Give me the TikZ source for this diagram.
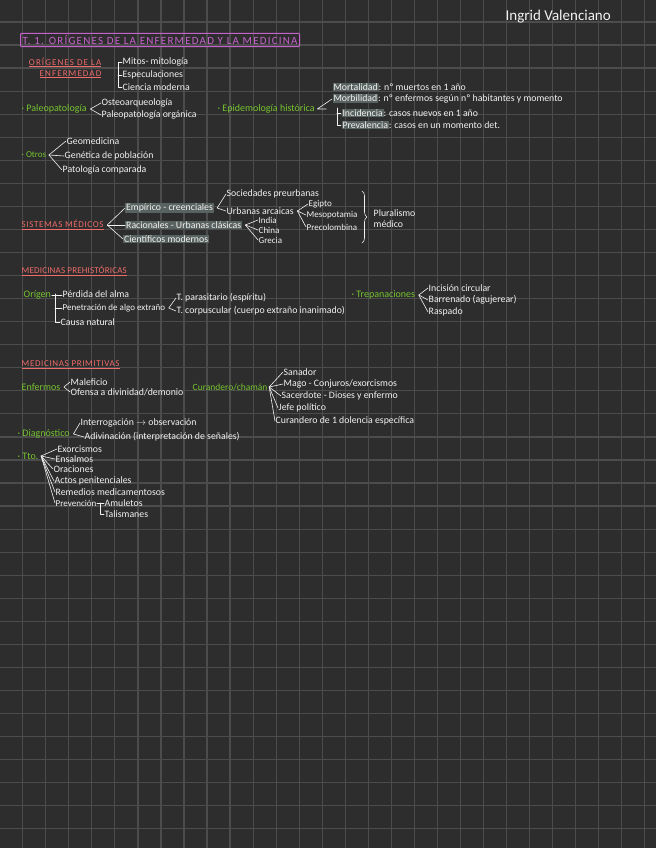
\documentclass[tikz,border=0pt]{standalone}
\usepackage{fontspec}
\setmainfont{Carlito}
\definecolor{Fondo}{RGB}{45,45,45}
\definecolor{Cuadricula}{RGB}{76,76,76}
\definecolor{Tiza}{RGB}{242,242,242}
\definecolor{Salmon}{RGB}{238,108,106}
\definecolor{Magenta}{RGB}{198,98,204}
\definecolor{Lima}{RGB}{118,196,48}
\definecolor{Resalte}{RGB}{88,98,96}
\usetikzlibrary{positioning, calc, decorations.pathreplacing}
\newcommand{\resal}[1]{{\setlength{\fboxsep}{0.8pt}\colorbox{Resalte}{#1}}}

\begin{document}
\begin{tikzpicture}[x=1pt, y=-1pt, font=\fontsize{9.8}{11}\selectfont,
	texto/.style={anchor=west, inner sep=0.5pt, text=Tiza},
	chico/.style={texto, font=\fontsize{9}{10}\selectfont},
	verde/.style={texto, text=Lima, font=\fontsize{10}{11}\selectfont},
	rosa/.style={texto, text=Salmon, font=\fontsize{9}{11}\selectfont\addfontfeatures{LetterSpace=7}},
	marcado/.style={texto, fill=Resalte, inner sep=1pt},
	ll/.style={draw=Tiza, line width=0.6pt, line cap=round, line join=round}]

	% hoja cuadriculada
	\useasboundingbox (0,0) rectangle (656,848);
	\fill[Fondo] (0,0) rectangle (656,848);
	\foreach \k in {0,...,27}
		\draw[Cuadricula, line width=1.2pt] ({22.7+23.04*\k},0) -- ({22.7+23.04*\k},848);
	\foreach \k in {0,...,35}
		\draw[Cuadricula, line width=1.2pt] (0,{22+23.05*\k}) -- (656,{22+23.05*\k});

	\node[texto, font=\fontsize{15}{16}\selectfont] (autora) at (505,17) {Ingrid Valenciano};
	\node[texto, text=Magenta, draw=Magenta, line width=1pt, rounded corners=1pt, inner sep=2pt,
		font=\fontsize{11}{12}\selectfont\addfontfeatures{LetterSpace=11}] (tema) at (20,40) {T. 1. ORÍGENES DE LA ENFERMEDAD Y LA MEDICINA};

	% origenes de la enfermedad
	\node[rosa, align=right, anchor=north east,
		font=\fontsize{9}{11}\selectfont\addfontfeatures{LetterSpace=12}] (origenes) at (102,57) {\underline{ORÍGENES DE LA}\\\underline{ENFERMEDAD}};
	\node[texto] (mitos) at (122,62) {Mitos- mitología};
	\node[texto] (especul) at (122,75) {Especulaciones};
	\node[texto] (ciencia) at (122,87) {Ciencia moderna};
	\draw[ll] (mitos.west) -| ([xshift=-4pt]ciencia.west) -- (ciencia.west);
	\draw[ll] (especul.west) -- ++(-4,0);

	\node[verde] (paleo) at (21,109) {· Paleopatología};
	\node[texto] (osteo) at (101,103) {Osteoarqueología};
	\node[texto] (paleoorg) at (101,115) {Paleopatología orgánica};
	\draw[ll] (osteo.west) -- ([xshift=3pt]paleo.east) -- (paleoorg.west);

	\node[verde] (epidem) at (217,109) {· Epidemología histórica};
	\node[texto] (mortal) at (332,87) {\resal{Mortalidad}: nº muertos en 1 año};
	\node[texto] (morbil) at (332,99) {\resal{Morbilidad}: nº enfermos según nº habitantes y momento};
	\node[texto] (incid) at (341,113) {\resal{Incidencia}: casos nuevos en 1 año};
	\node[texto] (preval) at (341,125) {\resal{Prevalencia}: casos en un momento det.};
	\draw[ll] (morbil.west) -- ([xshift=2pt]epidem.east) -- ++(9,0);
	\draw[ll] ($(incid.west)+(-4,-5)$) |- (preval.west);
	\draw[ll] (incid.west) -- ++(-4,0);

	\node[verde, font=\fontsize{9}{10}\selectfont] (otros) at (21,155) {· Otros};
	\node[texto] (geomed) at (66,141) {Geomedicina};
	\node[texto] (genet) at (64,156) {Genética de población};
	\node[texto] (patcomp) at (62,170) {Patología comparada};
	\foreach \h in {geomed, genet, patcomp}
		\draw[ll] ([xshift=2pt]otros.east) -- (\h.west);

	% sistemas medicos
	\node[rosa] (sistemas) at (21,225) {\underline{SISTEMAS MÉDICOS}};
	\node[marcado] (empirico) at (125,208) {Empírico - creenciales};
	\node[marcado] (racional) at (125,225) {Racionales - Urbanas clásicas};
	\node[marcado] (cientif) at (123,239) {Científicos modernos};
	\foreach \h in {empirico, racional, cientif}
		\draw[ll] ([xshift=3pt]sistemas.east) -- (\h.west);

	\node[texto] (preurb) at (226,194) {Sociedades preurbanas};
	\node[texto] (arcaicas) at (226,211) {Urbanas arcaicas};
	\draw[ll] (preurb.west) -- ([xshift=3pt]empirico.east) -- (arcaicas.west);

	\node[chico] (egipto) at (308,204) {Egipto};
	\node[chico] (mesopot) at (306,215) {Mesopotamia};
	\node[chico] (precol) at (306,227) {Precolombina};
	\foreach \h in {egipto, mesopot, precol}
		\draw[ll] ([xshift=3pt]arcaicas.east) -- (\h.west);

	\node[chico] (india) at (258,220) {India};
	\node[chico] (china) at (258,230) {China};
	\node[chico] (grecia) at (258,240) {Grecia};
	\foreach \h in {india, china, grecia}
		\draw[ll] ([xshift=3pt]racional.east) -- (\h.west);

	\coordinate (llave-sup) at (362,191);
	\coordinate (llave-inf) at (362,243);
	\draw[ll, decorate, decoration={brace, amplitude=5pt}] (llave-sup) -- (llave-inf);
	\node[texto, align=left] (pluralismo) at (373,219) {Pluralismo\\médico};

	% medicinas prehistoricas
	\node[rosa, font=\fontsize{9}{11}\selectfont\addfontfeatures{LetterSpace=2}] (prehist) at (21,271) {\underline{MEDICINAS PREHISTÓRICAS}};
	\node[verde] (origen) at (23,295) {Orígen};
	\node[texto] (perdida) at (62,294) {Pérdida del alma};
	\node[chico] (penetra) at (62,308) {Penetración de algo extraño};
	\node[texto] (causa) at (60,322) {Causa natural};
	\draw[ll] (origen.east) -- (origen.east -| perdida.west);
	\draw[ll] ([xshift=-7pt]perdida.west) |- (causa.west);
	\draw[ll] (penetra.west) -- ++(-7,0);

	\node[texto] (parasit) at (176,298) {T. parasitario (espíritu)};
	\node[texto] (corpusc) at (176,311) {T. corpuscular (cuerpo extraño inanimado)};
	\draw[ll] (parasit.west) -- ([xshift=3pt]penetra.east) -- (corpusc.west);

	\node[verde] (trepan) at (351,295) {· Trepanaciones};
	\node[texto] (incision) at (428,288) {Incisión circular};
	\node[texto] (barren) at (428,300) {Barrenado (agujerear)};
	\node[texto] (raspado) at (428,312) {Raspado};
	\foreach \h in {incision, barren, raspado}
		\draw[ll] ([xshift=3pt]trepan.east) -- (\h.west);

	% medicinas primitivas
	\node[rosa] (primit) at (21,365) {\underline{MEDICINAS PRIMITIVAS}};
	\node[verde] (enfermos) at (21,387) {Enfermos};
	\node[texto] (malef) at (70,382) {Maleficio};
	\node[texto] (ofensa) at (70,392) {Ofensa a divinidad/demonio};
	\draw[ll] (malef.west) -- ([xshift=3pt]enfermos.east) -- (ofensa.west);

	\node[verde, font=\fontsize{9.5}{11}\selectfont] (curand) at (192,387) {Curandero/chamán};
	\node[texto] (sanador) at (283,372) {Sanador};
	\node[texto] (mago) at (283,384) {Mago - Conjuros/exorcismos};
	\node[texto] (sacerd) at (281,396) {Sacerdote - Dioses y enfermo};
	\node[texto] (jefe) at (278,408) {Jefe político};
	\node[texto] (curuno) at (275,421) {Curandero de 1 dolencia específica};
	\foreach \h in {sanador, mago, sacerd, jefe, curuno}
		\draw[ll] ([xshift=1pt]curand.east) -- (\h.west);

	\node[verde] (diagn) at (17,434) {· Diagnóstico};
	\node[texto] (interrog) at (80,423) {Interrogación $\to$ observación};
	\node[texto] (adivin) at (84,437) {Adivinación (interpretación de señales)};
	\draw[ll] (interrog.west) -- ([xshift=3pt]diagn.east) -- (adivin.west);

	\node[verde] (tto) at (17,456) {· Tto.};
	\node[texto] (exorc) at (57,449) {Exorcismos};
	\node[texto] (ensalm) at (55,459) {Ensalmos};
	\node[texto] (oracion) at (53,469) {Oraciones};
	\node[texto] (actos) at (54,481) {Actos penitenciales};
	\node[texto] (remed) at (55,492) {Remedios medicamentosos};
	\node[chico] (prevenc) at (55,503) {Prevención};
	\foreach \h in {exorc, ensalm, oracion, actos, remed, prevenc}
		\draw[ll] ([xshift=2pt]tto.east) -- (\h.west);

	\node[texto] (amuleto) at (104,503) {Amuletos};
	\node[texto] (talism) at (104,514) {Talismanes};
	\draw[ll] (prevenc.east) -- (amuleto.west);
	\draw[ll] ([xshift=-4pt]amuleto.west) |- (talism.west);
\end{tikzpicture}
\end{document}
